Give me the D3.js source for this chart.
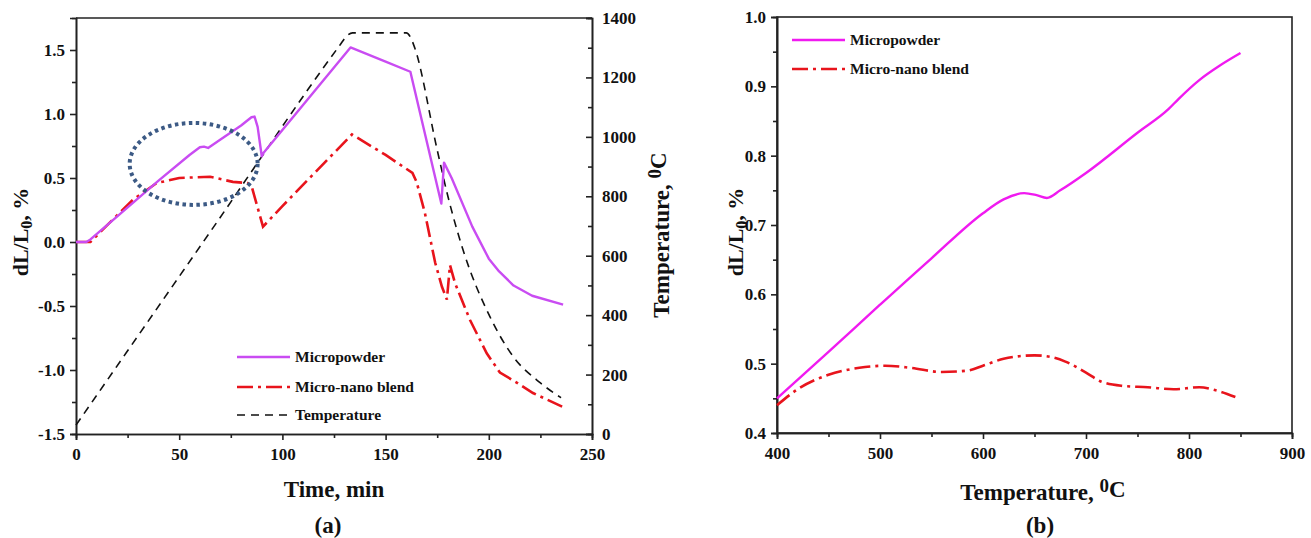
<!DOCTYPE html>
<html>
<head>
<meta charset="utf-8">
<script src="https://cdn.jsdelivr.net/npm/d3@7"></script>
<style>
  body { margin: 0; background: #fff; }
  text { font-family: "Liberation Serif", "Times New Roman", serif; font-weight: bold; fill: #111; }
  .axis path, .axis line { stroke: #222; stroke-width: 1.6px; }
  .axis text { font-size: 17px; font-family: "Liberation Serif", serif; font-weight: bold; }
</style>
</head>
<body>
<script>
// ---- data (a): time in min vs dL/L0 and temperature
var microA = [[0,0],[5,0],[7,0.02],[20,0.2],[40,0.48],[55,0.68],[60,0.74],[62,0.745],[64,0.735],
  [70,0.80],[80,0.91],[85,0.975],[86.5,0.98],[88,0.9],[90,0.67],[91,0.7],[110,1.07],[133,1.52],
  [150,1.41],[162,1.33],[177,0.3],[178.3,0.62],[182,0.5],[192,0.12],[200,-0.13],[205,-0.23],
  [212,-0.34],[221,-0.42],[236,-0.49]];

var blendA = [[0,0],[7,0],[15,0.13],[27.6,0.33],[39,0.46],[50,0.5],[65,0.51],[76,0.47],[83,0.46],
  [85,0.44],[90.6,0.12],[100,0.28],[115,0.53],[133.7,0.84],[150,0.68],[163,0.54],[165,0.47],
  [169,0.23],[174,-0.16],[177.3,-0.35],[179.7,-0.45],[181.2,-0.18],[183.6,-0.32],[190.9,-0.61],
  [199,-0.87],[205.4,-1.02],[213.7,-1.1],[221.4,-1.18],[236,-1.29]];

var tempA = [[0,30],[65,680],[128,1310],[131,1338],[134,1350],[160,1350],[162,1336],[164,1302],
  [175,956],[180,805],[187.5,620],[200.6,394],[212,259],[225,172],[235,122]];

// dotted ellipse: centre time, centre dL/L0, half width (min), half height (%)
var highlight = [57, 0.61, 31, 0.32];

// ---- data (b): temperature vs dL/L0
var microB = [[400,0.45],[450,0.517],[500,0.585],[550,0.652],[600,0.717],[620,0.737],[640,0.746],
  [652,0.743],[662,0.739],[675,0.75],[700,0.775],[750,0.833],[780,0.867],[790,0.882],[810,0.909],
  [830,0.93],[850,0.948]];

var blendB = [[400,0.44],[420,0.463],[450,0.484],[480,0.494],[505,0.497],[530,0.494],[560,0.488],
  [585,0.49],[600,0.497],[620,0.507],[650,0.512],[665,0.51],[680,0.503],[700,0.487],[715,0.474],
  [735,0.468],[760,0.466],[785,0.463],[810,0.466],[825,0.462],[845,0.452]];

var legendA = ["Micropowder", "Micro-nano blend", "Temperature"];
var legendB = ["Micropowder", "Micro-nano blend"];

var timeTicks = [0, 50, 100, 150, 200, 250];
var dlTicksA = [-1.5, -1.0, -0.5, 0.0, 0.5, 1.0, 1.5];
var tempTicks = [0, 200, 400, 600, 800, 1000, 1200, 1400];
var tempTicksB = [400, 500, 600, 700, 800, 900];
var dlTicksB = [0.4, 0.5, 0.6, 0.7, 0.8, 0.9, 1.0];

var pink = "#c94cf2", pinkB = "#f01af0", red = "#e8141c", navy = "#3c5a85";
var dashDot = "16,5,3,5";

var svg = d3.select("body").append("svg")
  .attr("width", 1311)
  .attr("height", 538);

function minors(ticks) {
  var out = [];
  for (var i = 0; i < ticks.length - 1; i++) out.push((ticks[i] + ticks[i + 1]) / 2);
  return out;
}

// ================= chart (a)
var xA = d3.scaleLinear().domain([0, 250]).range([76, 592]);
var yA = d3.scaleLinear().domain([-1.5, 1.75]).range([434, 18]);
var yT = d3.scaleLinear().domain([0, 1400]).range([434, 18]);

var gA = svg.append("g");

// frame top
gA.append("line").attr("x1", 76).attr("x2", 592).attr("y1", 18).attr("y2", 18)
  .attr("stroke", "#222").attr("stroke-width", 1.6);

gA.append("g").attr("class", "axis").attr("transform", "translate(0,434)")
  .call(d3.axisBottom(xA).tickValues(minors(timeTicks)).tickSize(4).tickFormat(""));
gA.append("g").attr("class", "axis").attr("transform", "translate(0,434)")
  .call(d3.axisBottom(xA).tickValues(timeTicks).tickSize(6).tickPadding(8).tickFormat(d3.format("d")));

gA.append("g").attr("class", "axis").attr("transform", "translate(76,0)")
  .call(d3.axisLeft(yA).tickValues(minors(dlTicksA)).tickSize(4).tickFormat(""));
gA.append("g").attr("class", "axis").attr("transform", "translate(76,0)")
  .call(d3.axisLeft(yA).tickValues(dlTicksA).tickSize(6).tickPadding(5)
    .tickFormat(function(d) { return d.toFixed(1); }));

gA.append("g").attr("class", "axis").attr("transform", "translate(592,0)")
  .call(d3.axisRight(yT).tickValues(minors(tempTicks)).tickSize(-4).tickFormat(""));
gA.append("g").attr("class", "axis").attr("transform", "translate(592,0)")
  .call(d3.axisRight(yT).tickValues(tempTicks).tickSize(-6).tickPadding(10).tickFormat(d3.format("d")));

var lineA = d3.line().x(function(d) { return xA(d[0]); }).y(function(d) { return yA(d[1]); });
var lineT = d3.line().x(function(d) { return xA(d[0]); }).y(function(d) { return yT(d[1]); })
  .curve(d3.curveMonotoneX);

gA.append("path").datum(tempA).attr("d", lineT)
  .attr("fill", "none").attr("stroke", "#111").attr("stroke-width", 1.6).attr("stroke-dasharray", "8,6");
gA.append("path").datum(blendA).attr("d", lineA)
  .attr("fill", "none").attr("stroke", red).attr("stroke-width", 2.6).attr("stroke-dasharray", dashDot);
gA.append("path").datum(microA).attr("d", lineA)
  .attr("fill", "none").attr("stroke", pink).attr("stroke-width", 2.4).attr("stroke-linejoin", "round");

// dotted ellipse
gA.append("ellipse")
  .attr("cx", xA(highlight[0]))
  .attr("cy", yA(highlight[1]))
  .attr("rx", xA(highlight[0] + highlight[2]) - xA(highlight[0]))
  .attr("ry", yA(highlight[1]) - yA(highlight[1] + highlight[3]))
  .attr("fill", "none").attr("stroke", navy).attr("stroke-width", 4).attr("stroke-dasharray", "3.5,3.5");

// legend (a)
var legA = gA.selectAll(".legA").data(legendA).enter().append("g")
  .attr("transform", function(d, i) { return "translate(237," + [357, 387, 415][i] + ")"; });
legA.append("line").attr("x1", 0).attr("x2", 53)
  .attr("stroke", function(d, i) { return [pink, red, "#111"][i]; })
  .attr("stroke-width", function(d, i) { return [2.4, 2.6, 1.6][i]; })
  .attr("stroke-dasharray", function(d, i) { return [null, dashDot, "8,6"][i]; });
legA.append("text").attr("x", 58).attr("y", 5).style("font-size", "15.5px").text(function(d) { return d; });

// labels (a)
gA.append("text").attr("x", 334).attr("y", 497).attr("text-anchor", "middle")
  .style("font-size", "23px").text("Time, min");
gA.append("text").attr("x", 328).attr("y", 533).attr("text-anchor", "middle")
  .style("font-size", "23px").text("(a)");

var ylA = gA.append("text").attr("transform", "translate(28,232) rotate(-90)")
  .attr("text-anchor", "middle").style("font-size", "22px");
ylA.append("tspan").text("dL/L");
ylA.append("tspan").attr("dy", 4).style("font-size", "16px").text("0");
ylA.append("tspan").attr("dy", -4).text(", %");

var yrA = gA.append("text").attr("transform", "translate(669,235) rotate(-90)")
  .attr("text-anchor", "middle").style("font-size", "23px");
yrA.append("tspan").text("Temperature, ");
yrA.append("tspan").attr("dy", -8).style("font-size", "19px").text("0");
yrA.append("tspan").attr("dy", 5).text("C");

// ================= chart (b)
var xB = d3.scaleLinear().domain([400, 900]).range([777, 1292]);
var yB = d3.scaleLinear().domain([0.4, 1.0]).range([433, 17]);

var gB = svg.append("g");

gB.append("rect").attr("x", 777).attr("y", 17).attr("width", 515).attr("height", 416)
  .attr("fill", "none").attr("stroke", "#222").attr("stroke-width", 1.6);

gB.append("g").attr("class", "axis").attr("transform", "translate(0,433)")
  .call(d3.axisBottom(xB).tickValues(minors(tempTicksB)).tickSize(4).tickFormat(""));
gB.append("g").attr("class", "axis").attr("transform", "translate(0,433)")
  .call(d3.axisBottom(xB).tickValues(tempTicksB).tickSize(6).tickPadding(8).tickFormat(d3.format("d")));

gB.append("g").attr("class", "axis").attr("transform", "translate(777,0)")
  .call(d3.axisLeft(yB).tickValues(minors(dlTicksB)).tickSize(4).tickFormat(""));
gB.append("g").attr("class", "axis").attr("transform", "translate(777,0)")
  .call(d3.axisLeft(yB).tickValues(dlTicksB).tickSize(6).tickPadding(5)
    .tickFormat(function(d) { return d.toFixed(1); }));

var lineB = d3.line().x(function(d) { return xB(d[0]); }).y(function(d) { return yB(d[1]); })
  .curve(d3.curveMonotoneX);

gB.append("path").datum(blendB).attr("d", lineB)
  .attr("fill", "none").attr("stroke", red).attr("stroke-width", 2.6).attr("stroke-dasharray", dashDot);
gB.append("path").datum(microB).attr("d", lineB)
  .attr("fill", "none").attr("stroke", pinkB).attr("stroke-width", 2.4);

// legend (b)
var legB = gB.selectAll(".legB").data(legendB).enter().append("g")
  .attr("transform", function(d, i) { return "translate(792," + [40, 69][i] + ")"; });
legB.append("line").attr("x1", 0).attr("x2", 53)
  .attr("stroke", function(d, i) { return [pinkB, red][i]; })
  .attr("stroke-width", function(d, i) { return [2.4, 2.6][i]; })
  .attr("stroke-dasharray", function(d, i) { return [null, dashDot][i]; });
legB.append("text").attr("x", 58).attr("y", 5).style("font-size", "15.5px").text(function(d) { return d; });

// labels (b)
var xlB = gB.append("text").attr("x", 1043).attr("y", 500).attr("text-anchor", "middle")
  .style("font-size", "23px");
xlB.append("tspan").text("Temperature, ");
xlB.append("tspan").attr("dy", -8).style("font-size", "19px").text("0");
xlB.append("tspan").attr("dy", 5).text("C");
gB.append("text").attr("x", 1040).attr("y", 533).attr("text-anchor", "middle")
  .style("font-size", "23px").text("(b)");

var ylB = gB.append("text").attr("transform", "translate(743,232) rotate(-90)")
  .attr("text-anchor", "middle").style("font-size", "22px");
ylB.append("tspan").text("dL/L");
ylB.append("tspan").attr("dy", 4).style("font-size", "16px").text("0");
ylB.append("tspan").attr("dy", -4).text(", %");
</script>
</body>
</html>
